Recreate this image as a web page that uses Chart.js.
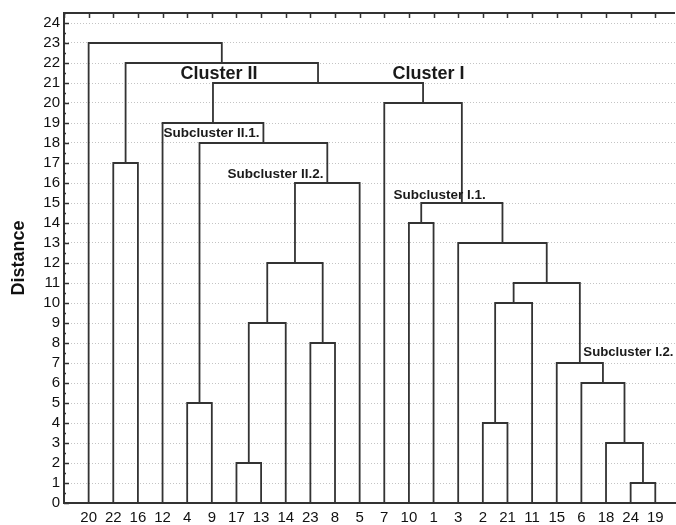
<!DOCTYPE html>
<html>
<head>
<meta charset="utf-8">
<script src="https://cdn.jsdelivr.net/npm/chart.js@4.4.1/dist/chart.umd.min.js"></script>
<style>
  body { margin: 0; background: #fff; }
  #wrap { width: 676px; height: 525px; }
</style>
</head>
<body>
<div id="wrap"><canvas id="grafico" width="676" height="525"></canvas></div>
<script>
// Folhas na ordem em que aparecem no eixo x
const leafLabels = ['20','22','16','12','4','9','17','13','14','23','8','5','7','10','1','3','2','21','11','15','6','18','24','19'];

// Fusões do dendrograma (nó n1 = primeira fusão, n2 = segunda, ...)
const mergeLeft   = ['24','17','18','2','4','6','15','23','n2','n4','n10','n9','3','10','n14','n12','22','n5','12','7','n19','n17','20'];
const mergeRight  = ['19','13','n1','21','9','n3','n6','8','14','11','n7','n8','n11','1','n13','5','16','n16','n18','n15','n20','n21','n22'];
const mergeHeight = [1, 2, 3, 4, 5, 6, 7, 8, 9, 10, 11, 12, 13, 14, 15, 16, 17, 18, 19, 20, 21, 22, 23];

// Textos das anotações
const noteTexts = ['Cluster II', 'Cluster I', 'Subcluster II.1.', 'Subcluster II.2.', 'Subcluster I.1.', 'Subcluster I.2.'];

// Posição das anotações (x em unidades de folha, y em distância) e tamanho
const notePos = [[3.73, 21.43, 18], [12.33, 21.43, 18], [3.04, 18.48, 13.5], [5.64, 16.43, 13.5], [12.37, 15.38, 13.5], [20.08, 7.53, 13.2]];

// Montar posições dos nós
const nodes = {};
leafLabels.forEach((lab, i) => { nodes[lab] = {x: i, y: 0}; });

const datasets = mergeHeight.map((h, k) => {
    const a = nodes[mergeLeft[k]];
    const b = nodes[mergeRight[k]];
    nodes['n' + (k + 1)] = {x: (a.x + b.x) / 2, y: h};
    return {
        data: [{x: a.x, y: a.y}, {x: a.x, y: h}, {x: b.x, y: h}, {x: b.x, y: b.y}],
        showLine: true,
        borderColor: '#333',
        borderWidth: 1.8,
        pointRadius: 0,
        tension: 0,
        fill: false
    };
});

// Moldura superior, marcas internas e anotações
const extras = {
    id: 'extras',
    afterDraw(chart) {
        const {ctx, chartArea: ca, scales: {x, y}} = chart;
        ctx.save();
        ctx.strokeStyle = '#333';
        ctx.lineWidth = 2;
        ctx.beginPath();
        ctx.moveTo(ca.left - 1, ca.top);
        ctx.lineTo(ca.right, ca.top);
        ctx.stroke();

        ctx.lineWidth = 1.5;
        ctx.beginPath();
        for (let i = -1; i < leafLabels.length; i++) {
            const px = Math.round(x.getPixelForValue(i)) + 0.5;
            ctx.moveTo(px, ca.top);
            ctx.lineTo(px, ca.top + 5);
        }
        for (let v = 0; v <= 24.5; v += 0.5) {
            const py = Math.round(y.getPixelForValue(v)) + 0.5;
            const len = Number.isInteger(v) ? 5 : 2;
            ctx.moveTo(ca.left, py);
            ctx.lineTo(ca.left + len, py);
        }
        ctx.stroke();

        ctx.fillStyle = '#1a1a1a';
        ctx.textAlign = 'left';
        ctx.textBaseline = 'middle';
        noteTexts.forEach((t, i) => {
            const [nx, ny, size] = notePos[i];
            ctx.font = 'bold ' + size + 'px "Liberation Sans", Arial, sans-serif';
            ctx.fillText(t, x.getPixelForValue(nx), y.getPixelForValue(ny));
        });
        ctx.restore();
    }
};

const ctx = document.getElementById('grafico').getContext('2d');
new Chart(ctx, {
    type: 'scatter',
    data: { datasets },
    plugins: [extras],
    options: {
        responsive: false,
        animation: false,
        layout: { padding: { top: 12, right: 1, left: 0, bottom: 0 } },
        plugins: { legend: { display: false }, tooltip: { enabled: false } },
        scales: {
            x: {
                type: 'linear',
                min: -1,
                max: 23.8,
                afterBuildTicks: (s) => { s.ticks = leafLabels.map((_, i) => ({value: i})); },
                afterFit: (s) => { s.height = 22; },
                ticks: {
                    autoSkip: false,
                    maxRotation: 0,
                    padding: 6,
                    color: '#111',
                    font: { family: '"Liberation Sans", Arial, sans-serif', size: 15 },
                    callback: (v) => leafLabels[v]
                },
                grid: { display: false, drawTicks: false },
                border: { display: true, color: '#333', width: 2 }
            },
            y: {
                min: 0,
                max: 24.5,
                afterBuildTicks: (s) => {
                    s.ticks = Array.from({length: 25}, (_, i) => ({value: i}));
                },
                afterFit: (s) => { s.width = 64; },
                ticks: {
                    autoSkip: false,
                    padding: 4,
                    color: '#111',
                    font: { family: '"Liberation Sans", Arial, sans-serif', size: 15 }
                },
                grid: {
                    color: (c) => c.tick && c.tick.value === 0 ? 'rgba(0,0,0,0)' : '#c4c4c4',
                    lineWidth: 1,
                    drawTicks: false
                },
                border: { display: true, color: '#333', width: 2, dash: [1, 2] },
                title: {
                    display: true,
                    text: 'Distance',
                    color: '#111',
                    padding: { top: 8, bottom: 0 },
                    font: { family: '"Liberation Sans", Arial, sans-serif', size: 18, weight: 'bold' }
                }
            }
        }
    }
});
</script>
</body>
</html>
